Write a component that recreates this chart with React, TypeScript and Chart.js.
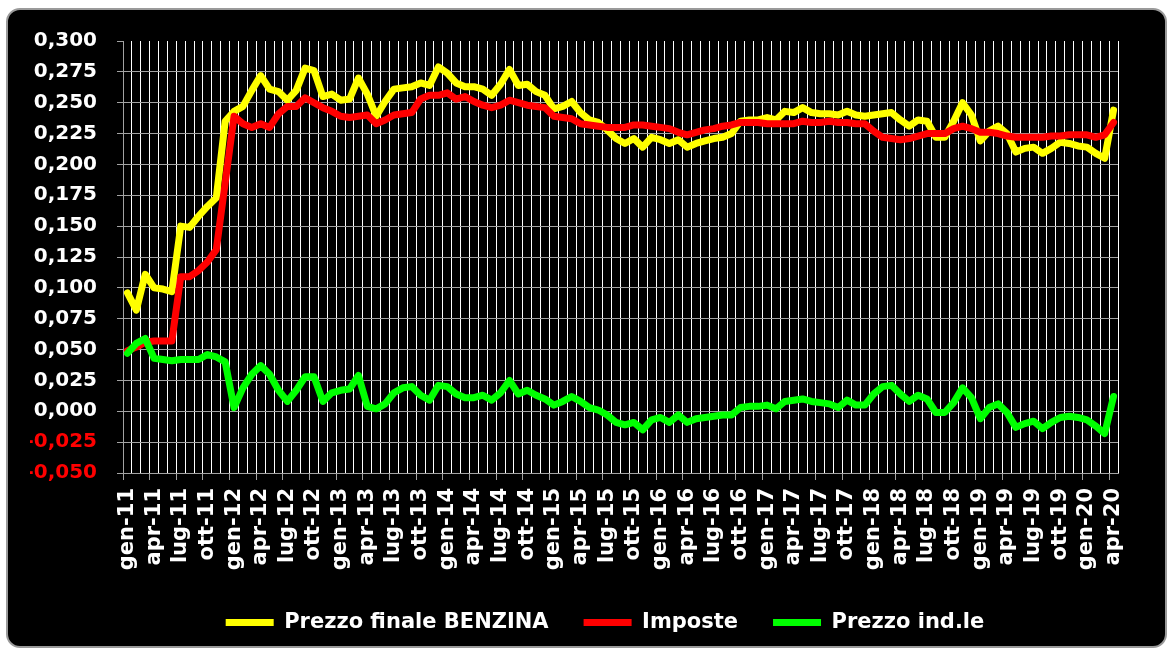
import React, { useEffect, useRef } from "react";
import { Chart, registerables } from "chart.js";

Chart.register(...registerables);

const MONTHS = ["gen", "feb", "mar", "apr", "mag", "giu", "lug", "ago", "set", "ott", "nov", "dic"];
const YEARS = ["11", "12", "13", "14", "15", "16", "17", "18", "19", "20"];

// Prezzo finale BENZINA
const benzina = [
  0.096, 0.082, 0.111, 0.100, 0.099, 0.097, 0.150, 0.149, 0.158, 0.166,
  0.173, 0.235, 0.243, 0.247, 0.260, 0.272, 0.261, 0.259, 0.252, 0.260,
  0.278, 0.276, 0.255, 0.257, 0.252, 0.253, 0.270, 0.257, 0.239, 0.251,
  0.261, 0.262, 0.263, 0.266, 0.264, 0.279, 0.274, 0.266, 0.263, 0.263,
  0.261, 0.256, 0.265, 0.277, 0.264, 0.265, 0.259, 0.256, 0.245, 0.247,
  0.251, 0.242, 0.236, 0.234, 0.228, 0.221, 0.217, 0.221, 0.214, 0.222,
  0.220, 0.217, 0.220, 0.214, 0.217, 0.219, 0.221, 0.222, 0.225, 0.235,
  0.236, 0.236, 0.238, 0.236, 0.243, 0.242, 0.246, 0.242, 0.241, 0.241,
  0.240, 0.243, 0.240, 0.239, 0.240, 0.241, 0.242, 0.236, 0.231, 0.236,
  0.235, 0.222, 0.222, 0.235, 0.250, 0.240, 0.219, 0.227, 0.231, 0.225,
  0.210, 0.213, 0.214, 0.209, 0.213, 0.218, 0.217, 0.215, 0.214, 0.209,
  0.205, 0.244,
];

// Imposte
const imposte = [
  0.049, 0.052, 0.056, 0.057, 0.057, 0.057, 0.109, 0.109, 0.114, 0.121,
  0.131, 0.185, 0.239, 0.233, 0.230, 0.233, 0.230, 0.241, 0.247, 0.247,
  0.254, 0.250, 0.246, 0.243, 0.239, 0.238, 0.239, 0.240, 0.233, 0.236,
  0.240, 0.241, 0.242, 0.253, 0.256, 0.256, 0.258, 0.253, 0.255, 0.251,
  0.248, 0.246, 0.248, 0.252, 0.250, 0.248, 0.247, 0.246, 0.239, 0.238,
  0.237, 0.233, 0.232, 0.231, 0.230, 0.230, 0.230, 0.232, 0.232, 0.231,
  0.230, 0.229, 0.226, 0.224, 0.226, 0.228, 0.229, 0.231, 0.232, 0.234,
  0.234, 0.234, 0.233, 0.233, 0.233, 0.233, 0.235, 0.234, 0.234, 0.235,
  0.234, 0.234, 0.233, 0.233, 0.227, 0.222, 0.221, 0.220, 0.221, 0.223,
  0.225, 0.225, 0.225, 0.229, 0.231, 0.229, 0.226, 0.226, 0.225, 0.223,
  0.222, 0.222, 0.222, 0.222, 0.223, 0.223, 0.224, 0.224, 0.224, 0.222,
  0.224, 0.234,
];

// Prezzo ind.le
const prezzoInd = [
  0.047, 0.055, 0.059, 0.043, 0.042, 0.041, 0.042, 0.042, 0.042, 0.046,
  0.044, 0.040, 0.003, 0.019, 0.030, 0.037, 0.030, 0.017, 0.008, 0.017,
  0.028, 0.028, 0.008, 0.015, 0.017, 0.018, 0.029, 0.004, 0.002, 0.006,
  0.015, 0.019, 0.020, 0.013, 0.009, 0.021, 0.020, 0.014, 0.011, 0.011,
  0.013, 0.009, 0.015, 0.025, 0.014, 0.017, 0.013, 0.010, 0.005, 0.008,
  0.012, 0.008, 0.003, 0.001, -0.003, -0.009, -0.011, -0.009, -0.015, -0.007,
  -0.005, -0.009, -0.003, -0.009, -0.006, -0.005, -0.004, -0.003, -0.003, 0.003,
  0.004, 0.004, 0.005, 0.002, 0.008, 0.009, 0.010, 0.008, 0.007, 0.006,
  0.003, 0.009, 0.005, 0.005, 0.014, 0.020, 0.021, 0.014, 0.008, 0.013,
  0.010, -0.001, -0.001, 0.007, 0.019, 0.011, -0.006, 0.003, 0.006, -0.001,
  -0.013, -0.010, -0.008, -0.014, -0.009, -0.005, -0.004, -0.005, -0.007, -0.012,
  -0.018, 0.012,
];

const categories: string[] = [];
YEARS.forEach((y) => MONTHS.forEach((m) => categories.push(`${m}-${y}`)));
const labels = categories.slice(0, benzina.length);

const Y_MIN = -0.05;
const Y_MAX = 0.3;
const Y_STEP = 0.025;

const GRAY = "#a3a3a3";
const FONT = "'DejaVu Sans', Verdana, sans-serif";

const cleanTick = (v: any) => {
  const r = Math.round(Number(v) * 1000) / 1000;
  return Math.abs(r) < 1e-9 ? 0 : r;
};

const legendShift = {
  id: "legendShift",
  afterLayout(chart: any) {
    const lg = chart.legend;
    if (lg) {
      lg.left += 31;
      lg.right += 31;
    }
  },
};

export default function App() {
  const canvasRef = useRef<HTMLCanvasElement | null>(null);

  useEffect(() => {
    if (!canvasRef.current) return;
    const common = {
      borderWidth: 7,
      pointRadius: 0,
      tension: 0,
      borderCapStyle: "round",
      borderJoinStyle: "round",
    };
    const chart = new Chart(canvasRef.current, {
      type: "line",
      data: {
        labels,
        datasets: [
          {
            label: "Prezzo finale BENZINA",
            data: benzina,
            borderColor: "#ffff00",
            backgroundColor: "#ffff00",
            order: 3,
            ...common,
          },
          {
            label: "Imposte",
            data: imposte,
            borderColor: "#ff0000",
            backgroundColor: "#ff0000",
            order: 2,
            ...common,
          },
          {
            label: "Prezzo ind.le",
            data: prezzoInd,
            borderColor: "#00ff00",
            backgroundColor: "#00ff00",
            order: 1,
            ...common,
          },
        ],
      },
      plugins: [legendShift],
      options: {
        animation: false,
        responsive: false,
        maintainAspectRatio: false,
        layout: { padding: { left: 22, right: 47, top: 21, bottom: 2 } },
        plugins: {
          tooltip: { enabled: false },
          title: { display: false },
          legend: {
            position: "bottom",
            labels: {
              color: "#ffffff",
              font: { family: FONT, weight: "bold", size: 21 },
              usePointStyle: true,
              pointStyle: "line",
              pointStyleWidth: 48,
              padding: 35,
              sort: (a: any, b: any) => a.datasetIndex - b.datasetIndex,
            },
          },
        },
        scales: {
          x: {
            type: "category",
            offset: true,
            grid: {
              offset: true,
              color: "#ffffff",
              lineWidth: 1,
              drawTicks: true,
              tickLength: 7,
              tickColor: (ctx: any) =>
                typeof ctx.index === "number" && ctx.index % 3 === 0 ? GRAY : "rgba(0,0,0,0)",
            },
            border: { color: GRAY, width: 1 },
            ticks: {
              autoSkip: false,
              minRotation: 90,
              maxRotation: 90,
              padding: 8,
              color: "#ffffff",
              font: { family: FONT, weight: "bold", size: 21 },
              callback: (_v: any, i: number) => (i % 3 === 0 ? labels[i] : ""),
            },
            afterFit: (s: any) => {
              s.height = 104;
            },
          },
          y: {
            min: Y_MIN,
            max: Y_MAX,
            grid: {
              color: (ctx: any) =>
                ctx.tick && cleanTick(ctx.tick.value) >= Y_MAX ? "rgba(0,0,0,0)" : GRAY,
              lineWidth: 1,
              tickLength: 6,
              tickColor: GRAY,
            },
            border: { color: GRAY, width: 1 },
            ticks: {
              stepSize: Y_STEP,
              padding: 20,
              color: (ctx: any) =>
                ctx.tick && cleanTick(ctx.tick.value) < 0 ? "#ff0000" : "#ffffff",
              font: { family: FONT, weight: "bold", size: 20 },
              callback: (v: any) => cleanTick(v).toFixed(3).replace(".", ","),
            },
            afterFit: (s: any) => {
              s.width = 93;
            },
          },
        },
      },
    } as any);
    return () => chart.destroy();
  }, []);

  return (
    <div
      style={{
        position: "fixed",
        left: 0,
        top: 0,
        width: 1173,
        height: 650,
        overflow: "hidden",
        background: "#ffffff",
      }}
    >
      <div
        style={{
          position: "absolute",
          left: 6,
          top: 8,
          width: 1157,
          height: 636,
          background: "#000000",
          border: "2px solid #9a9a9a",
          borderRadius: 14,
        }}
      />
      <canvas
        ref={canvasRef}
        width={1157}
        height={636}
        style={{ position: "absolute", left: 8, top: 9, width: 1157, height: 636 }}
      />
    </div>
  );
}
